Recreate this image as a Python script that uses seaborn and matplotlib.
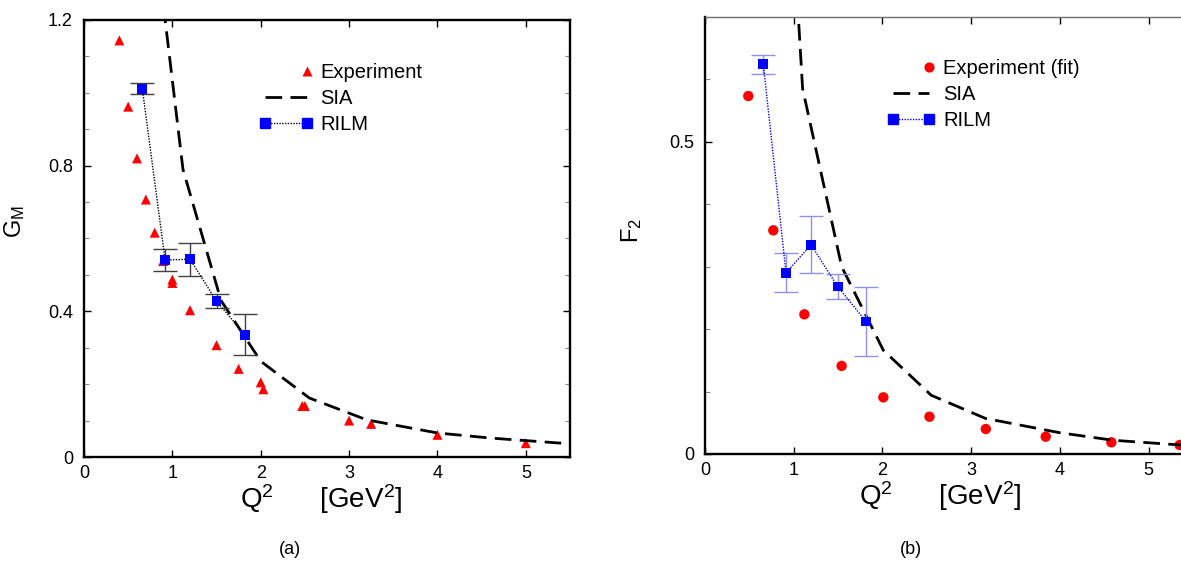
import numpy as np
import pandas as pd
import matplotlib
matplotlib.use("Agg")
import matplotlib.pyplot as plt
import seaborn as sns
from matplotlib.lines import Line2D
from matplotlib.legend_handler import HandlerLine2D
from matplotlib.ticker import MultipleLocator, FixedLocator

# ---------------- data: panel (a) G_M ----------------
gm_exp_q2 = [0.40, 0.50, 0.60, 0.70, 0.80, 0.895, 1.00, 1.00, 1.20, 1.50, 1.75,
             2.00, 2.03, 2.47, 2.50, 3.00, 3.25, 4.00, 5.00]
gm_exp = [1.144, 0.962, 0.820, 0.707, 0.616, 0.538, 0.487, 0.478, 0.403, 0.307,
          0.242, 0.205, 0.186, 0.140, 0.140, 0.100, 0.091, 0.061, 0.038]
gm_sia_q2 = [0.90, 1.12, 1.55, 2.00, 2.55, 3.20, 4.00, 4.60, 5.40]
gm_sia = [1.237, 0.790, 0.430, 0.263, 0.162, 0.102, 0.066, 0.052, 0.038]
gm_rilm_q2 = [0.66, 0.918, 1.20, 1.50, 1.82]
gm_rilm = [1.011, 0.541, 0.543, 0.428, 0.336]
gm_rilm_err = [0.015, 0.031, 0.045, 0.020, 0.056]

# ---------------- data: panel (b) F_2 ----------------
f2_exp_q2 = [0.488, 0.770, 1.12, 1.54, 2.01, 2.53, 3.165, 3.84, 4.58, 5.35]
f2_exp = [0.573, 0.358, 0.2235, 0.141, 0.0907, 0.0597, 0.040, 0.0277, 0.0187, 0.0144]
f2_sia_q2 = [0.90, 1.10, 1.54, 2.01, 2.55, 3.16, 4.00, 4.60, 5.40]
f2_sia = [1.065, 0.585, 0.300, 0.166, 0.094, 0.057, 0.034, 0.022, 0.014]
f2_rilm_q2 = [0.657, 0.913, 1.195, 1.496, 1.815]
f2_rilm = [0.624, 0.290, 0.335, 0.268, 0.212]
f2_rilm_err = [0.015, 0.031, 0.046, 0.020, 0.055]

x_ticks = [0, 1, 2, 3, 4, 5]
x_ticklabels = ["0", "1", "2", "3", "4", "5"]
gm_yticks = [0, 0.4, 0.8, 1.2]
gm_yticklabels = ["0", "0.4", "0.8", "1.2"]
f2_yticks = [0, 0.5]
f2_yticklabels = ["0", "0.5"]

legend_a = ["Experiment", "SIA", "RILM"]
legend_b = ["Experiment (fit)", "SIA", "RILM"]
xlabel = r"Q$^{\mathrm{2}}$      [GeV$^{\mathrm{2}}$]"

# ---------------- style ----------------
sns.set_theme(style="ticks")
plt.rcParams["font.family"] = ["Liberation Sans", "DejaVu Sans"]
plt.rcParams["mathtext.fontset"] = "custom"
plt.rcParams["mathtext.rm"] = "Liberation Sans"
plt.rcParams["mathtext.it"] = "Liberation Sans:italic"
plt.rcParams["mathtext.bf"] = "Liberation Sans:bold"

W, H = 1181, 561
fig = plt.figure(figsize=(W / 100, H / 100), dpi=100)
fig.patch.set_facecolor("white")
ax1 = fig.add_axes([84 / W, 1 - 457 / H, 486 / W, 437 / H])
ax2 = fig.add_axes([705 / W, 1 - 454 / H, 488 / W, 437.3 / H])

SIA_DASH = (0, (6, 3))
DOT = (0, (1, 1))


class EndMarkerHandler(HandlerLine2D):
    def create_artists(self, legend, orig_handle, xdescent, ydescent, width,
                       height, fontsize, trans):
        arts = super().create_artists(legend, orig_handle, xdescent, ydescent,
                                      width, height, fontsize, trans)
        for a in arts:
            n = len(a.get_xdata())
            a.set_markevery([n - 1])
        return arts


def panel(ax, exp_x, exp_y, exp_marker, exp_size, sia_x, sia_y, ril_x, ril_y,
          ril_err, line_col, err_col):
    sns.scatterplot(x=exp_x, y=exp_y, marker=exp_marker, s=exp_size,
                    color="red", edgecolor="none", linewidth=0, ax=ax,
                    zorder=3, legend=False)
    sns.lineplot(x=sia_x, y=sia_y, sort=False, estimator=None, color="black",
                 linewidth=2.0, linestyle=SIA_DASH, ax=ax, zorder=4, legend=False)
    ax.errorbar(ril_x, ril_y, yerr=ril_err, fmt="none", ecolor=err_col,
                elinewidth=1.0, capsize=8.6, capthick=1.0, zorder=5)
    sns.lineplot(x=ril_x, y=ril_y, sort=False, estimator=None, color=line_col,
                 linewidth=1.0, linestyle=DOT, ax=ax, zorder=6, legend=False)
    sns.scatterplot(x=ril_x, y=ril_y, marker="s", s=50, color="blue",
                    edgecolor="none", linewidth=0, ax=ax, zorder=7, legend=False)


panel(ax1, gm_exp_q2, gm_exp, "^", 52, gm_sia_q2, gm_sia, gm_rilm_q2, gm_rilm,
      gm_rilm_err, "black", "#404040")
panel(ax2, f2_exp_q2, f2_exp, "o", 56, f2_sia_q2, f2_sia, f2_rilm_q2, f2_rilm,
      f2_rilm_err, "blue", "#8f8ff0")

# axes formatting
for ax, yt, ytl, ylim in [(ax1, gm_yticks, gm_yticklabels, 1.2),
                          (ax2, f2_yticks, f2_yticklabels, 0.7)]:
    ax.set_xlim(0, 5.5)
    ax.set_ylim(0, ylim)
    ax.set_xticks(x_ticks)
    ax.set_xticklabels(x_ticklabels)
    ax.set_yticks(yt)
    ax.set_yticklabels(ytl)
    ax.yaxis.set_minor_locator(MultipleLocator(0.1))
    ax.xaxis.set_minor_locator(FixedLocator([]))
    ax.tick_params(which="both", direction="in", top=True, right=True)
    ax.tick_params(which="major", length=5, width=1.0, color="black",
                   labelsize=13, labelcolor="black")
    ax.tick_params(axis="y", which="major", pad=8)
    ax.tick_params(axis="x", which="major", pad=6)
    ax.tick_params(which="minor", length=3.5, width=0.8, color="#8a8a8a")
    ax.set_facecolor("white")
    ax.grid(False)
    for s in ax.spines.values():
        s.set_color("black")
        s.set_linewidth(1.7)
    ax.set_xlabel(xlabel, fontsize=20, color="black")
    ax.xaxis.label.set_va("top")

ax1.xaxis.set_label_coords(0.488, -0.058)
ax2.xaxis.set_label_coords(0.482, -0.058)

ax2.spines["top"].set_color("#707070")
ax2.spines["top"].set_linewidth(1.0)

ax1.set_ylabel(r"G$_{\mathrm{M}}$", fontsize=17, color="black")
ax1.yaxis.set_label_coords(-0.118, 0.54)
ax2.set_ylabel(r"F$_{\mathrm{2}}$", fontsize=17, color="black")
ax2.yaxis.set_label_coords(-0.125, 0.51)

# legends
fs = 14.5


def make_legend(ax, labels, exp_marker, line_col, x0, y0, hl, htp):
    h_exp = Line2D([], [], linestyle="none", marker=exp_marker, markersize=7.3,
                   color="red", markeredgecolor="none")
    h_sia = Line2D([], [], linestyle=SIA_DASH, linewidth=2.0, color="black")
    h_ril = Line2D([], [], linestyle=DOT, linewidth=1.0, color=line_col,
                   marker="s", markersize=7, markerfacecolor="blue",
                   markeredgecolor="blue")
    leg = ax.legend([h_exp, h_sia, h_ril], labels, loc="upper left",
                    bbox_to_anchor=(x0 / W, 1 - y0 / H),
                    bbox_transform=fig.transFigure, frameon=False,
                    numpoints=2, handlelength=hl, handletextpad=htp,
                    labelspacing=0.36, borderpad=0, borderaxespad=0,
                    fontsize=fs, handler_map={h_exp: EndMarkerHandler()})
    for t in leg.get_texts():
        t.set_color("black")
    return leg


make_legend(ax1, legend_a, "^", "black", 259, 63, 2.7, 0.35)
make_legend(ax2, legend_b, "o", "blue", 887, 59, 2.4, 0.38)

fig.text(290 / W, 1 - 549 / H, "(a)", ha="center", va="center", fontsize=13,
         color="black")
fig.text(911 / W, 1 - 549 / H, "(b)", ha="center", va="center", fontsize=13,
         color="black")

fig.savefig("out.png", dpi=100, facecolor="white")
